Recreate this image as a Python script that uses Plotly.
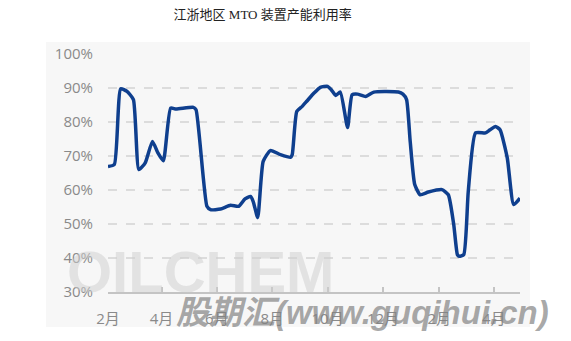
import plotly.graph_objects as go

title_text = "江浙地区 MTO 装置产能利用率"

dates = [
    "2019-02-01", "2019-02-08", "2019-02-15", "2019-02-22", "2019-03-01", "2019-03-07",
    "2019-03-14", "2019-03-22", "2019-03-28", "2019-04-03", "2019-04-11", "2019-04-17",
    "2019-05-06", "2019-05-09", "2019-05-21", "2019-05-25", "2019-06-05", "2019-06-16",
    "2019-06-25", "2019-07-02", "2019-07-08", "2019-07-11", "2019-07-16", "2019-07-22",
    "2019-07-30", "2019-08-10", "2019-08-21", "2019-08-23", "2019-08-28", "2019-09-03",
    "2019-09-08", "2019-09-16", "2019-09-23", "2019-10-01", "2019-10-05", "2019-10-10",
    "2019-10-15", "2019-10-23", "2019-10-28", "2019-11-03", "2019-11-12", "2019-11-21",
    "2019-12-18", "2019-12-23", "2019-12-27", "2019-12-31", "2020-01-05", "2020-01-11",
    "2020-01-20", "2020-02-04", "2020-02-11", "2020-02-17", "2020-02-21", "2020-02-23",
    "2020-02-28", "2020-03-04", "2020-03-12", "2020-03-23", "2020-03-28", "2020-04-03",
    "2020-04-08", "2020-04-16", "2020-04-23", "2020-04-30",
]
rates = [
    66.9, 67.5, 89.8, 89.0, 86.6, 66.0,
    68.0, 74.3, 70.9, 68.6, 84.1, 83.8,
    84.3, 83.6, 55.2, 54.2, 54.4, 55.5,
    55.2, 57.4, 58.1, 56.6, 51.9, 68.4,
    71.6, 70.4, 69.6, 70.4, 83.1, 84.6,
    86.1, 88.5, 90.2, 90.5, 89.5, 87.8,
    88.8, 78.4, 88.0, 88.2, 87.5, 88.8,
    88.8, 88.2, 86.6, 74.3, 61.6, 58.6,
    59.4, 60.1, 58.6, 49.8, 41.0, 40.5,
    41.0, 59.6, 76.8, 76.8, 77.7, 78.7,
    77.7, 69.4, 55.7, 57.6,
]

tick_dates = ["2019-02-01", "2019-04-01", "2019-06-01", "2019-08-01",
              "2019-10-01", "2019-12-01", "2020-02-01", "2020-04-01"]
tick_labels = ["2月", "4月", "6月", "8月", "10月", "12月", "2月", "4月"]

y_ticks = [30, 40, 50, 60, 70, 80, 90, 100]
y_labels = ["30%", "40%", "50%", "60%", "70%", "80%", "90%", "100%"]

W, H = 571, 341
ml, mr, mt, mb = 108, 51, 54, 49
pw, ph = W - ml - mr, H - mt - mb

def px_to_paper_x(px):
    return (px - ml) / pw

def px_to_paper_y(py):
    return (H - mb - py) / ph

fig = go.Figure()
fig.add_trace(go.Scatter(
    x=dates, y=rates, mode="lines",
    line=dict(color="#0f3f8e", width=3.5, shape="spline", smoothing=0.5),
    hoverinfo="skip", showlegend=False,
))

panel = "#f7f7f7"
fig.add_shape(type="rect", xref="paper", yref="paper",
              x0=px_to_paper_x(46), x1=px_to_paper_x(530),
              y0=px_to_paper_y(327), y1=px_to_paper_y(42),
              fillcolor=panel, line=dict(width=0), layer="below")

# watermarks
fig.add_annotation(text="<b>OILCHEM</b>", xref="paper", yref="paper",
                   x=px_to_paper_x(200), y=px_to_paper_y(271),
                   xanchor="center", yanchor="middle", showarrow=False,
                   font=dict(family="Liberation Sans, Arial", size=58,
                             color="rgba(205,205,205,0.5)"))
fig.add_annotation(text="<b><i>股期汇(www.guqihui.cn)</i></b>", xref="paper", yref="paper",
                   x=px_to_paper_x(362), y=px_to_paper_y(312),
                   xanchor="center", yanchor="middle", showarrow=False,
                   font=dict(family="Liberation Sans, Noto Sans CJK SC", size=33,
                             color="rgba(130,130,130,0.7)"))

fig.update_layout(
    width=W, height=H,
    margin=dict(l=ml, r=mr, t=mt, b=mb),
    paper_bgcolor="white", plot_bgcolor=panel,
    title=dict(text=title_text, x=262.7 / W, xref="container", xanchor="center",
               y=1 - 14 / H, yref="container", yanchor="middle",
               font=dict(family="Liberation Serif, Noto Sans CJK SC", size=13, color="#222")),
    xaxis=dict(
        type="date", range=["2019-02-01", "2020-04-30"],
        tickvals=tick_dates, ticktext=tick_labels,
        showgrid=False, showline=True, linecolor="#c4c4c4", linewidth=1.5,
        ticks="inside", ticklen=5, tickcolor="#c4c4c4", tickwidth=1.5,
        ticklabelstandoff=12,
        tickfont=dict(family="Open Sans, Noto Sans CJK SC", size=15, color="#8a8a8a"),
        zeroline=False, fixedrange=True,
    ),
    yaxis=dict(
        range=[30, 100], tickvals=y_ticks, ticktext=y_labels,
        showgrid=True, gridcolor="#dcdcdc", gridwidth=1.5, griddash="dash",
        showline=False, zeroline=False, ticks="",
        ticklabelstandoff=14,
        tickfont=dict(family="Open Sans, Noto Sans CJK SC", size=15, color="#8a8a8a"),
        fixedrange=True,
    ),
)

fig.write_html("out.html")
